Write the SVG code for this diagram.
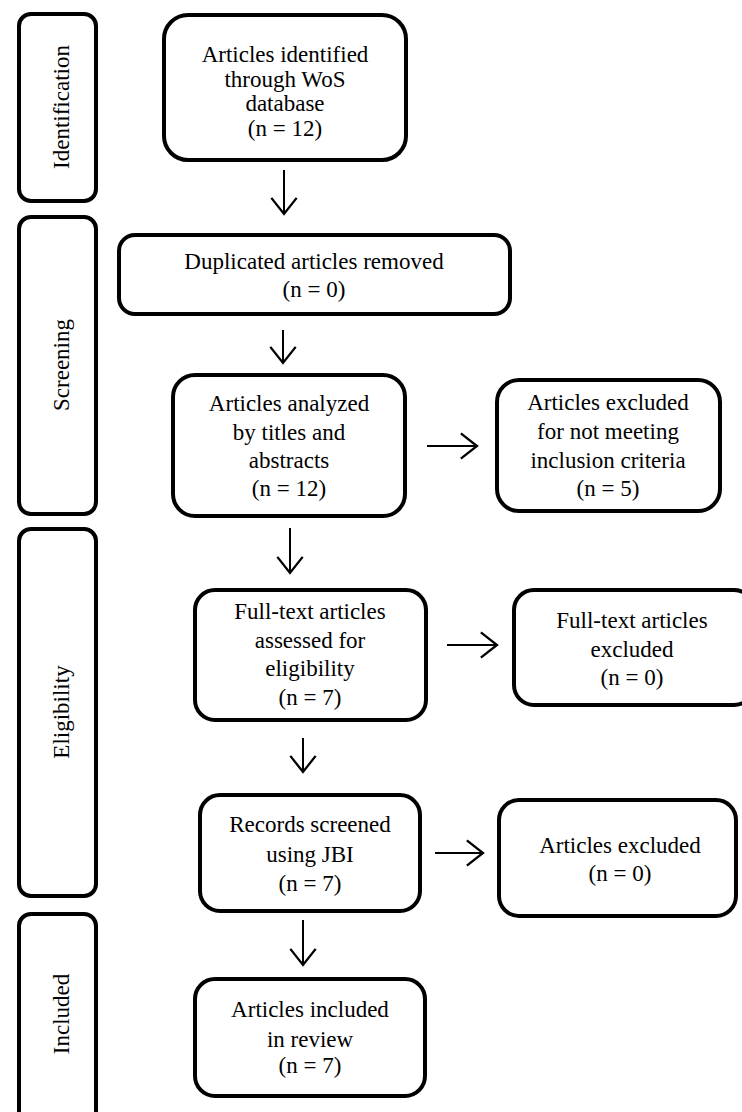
<svg xmlns="http://www.w3.org/2000/svg" width="742" height="1112" viewBox="0 0 742 1112">
<style>
.box{fill:#fff;stroke:#000;stroke-width:4}
.t{font-family:"Liberation Serif","Times New Roman",serif;font-size:23px;fill:#000;text-anchor:middle}
.c{stroke:#000;stroke-width:2;fill:none}
</style>
<defs>
<marker id="ah" markerUnits="userSpaceOnUse" markerWidth="30" markerHeight="30" viewBox="-16 -13 18 26" refX="0" refY="0" orient="auto">
<path d="M-14,-11 L0,0 L-14,11" fill="none" stroke="#000" stroke-width="2"/>
</marker>
</defs>
<rect width="742" height="1112" fill="#fff"/>
<g id="phase-identification">
<rect class="box" x="19" y="14" width="77" height="187" rx="12"/>
<text class="t" transform="translate(69,107) rotate(-90)">Identification</text>
</g>
<g id="phase-screening">
<rect class="box" x="19" y="217" width="77" height="297" rx="12"/>
<text class="t" transform="translate(69,365) rotate(-90)">Screening</text>
</g>
<g id="phase-eligibility">
<rect class="box" x="19" y="529" width="77" height="367" rx="12"/>
<text class="t" transform="translate(69,712) rotate(-90)">Eligibility</text>
</g>
<g id="phase-included">
<rect class="box" x="19" y="914" width="77" height="210" rx="12"/>
<text class="t" transform="translate(69,1014) rotate(-90)">Included</text>
</g>
<g id="identified">
<rect class="box" x="164" y="15" width="242" height="145" rx="24"/>
<text class="t" x="285" y="62">Articles identified</text>
<text class="t" x="285" y="87">through WoS</text>
<text class="t" x="285" y="111">database</text>
<text class="t" x="285" y="136">(n = 12)</text>
</g>
<g id="duplicates">
<rect class="box" x="119" y="235" width="391" height="79" rx="16"/>
<text class="t" x="314" y="269">Duplicated articles removed</text>
<text class="t" x="314" y="297">(n = 0)</text>
</g>
<g id="analyzed">
<rect class="box" x="173" y="375" width="232" height="141" rx="22"/>
<text class="t" x="289" y="411">Articles analyzed</text>
<text class="t" x="289" y="440">by titles and</text>
<text class="t" x="289" y="468">abstracts</text>
<text class="t" x="289" y="496">(n = 12)</text>
</g>
<g id="excluded-criteria">
<rect class="box" x="497" y="380" width="223" height="131" rx="22"/>
<text class="t" x="608" y="410">Articles excluded</text>
<text class="t" x="608" y="439">for not meeting</text>
<text class="t" x="608" y="468">inclusion criteria</text>
<text class="t" x="608" y="496">(n = 5)</text>
</g>
<g id="fulltext">
<rect class="box" x="195" y="590" width="231" height="130" rx="20"/>
<text class="t" x="310" y="619">Full-text articles</text>
<text class="t" x="310" y="648">assessed for</text>
<text class="t" x="310" y="676">eligibility</text>
<text class="t" x="310" y="705">(n = 7)</text>
</g>
<g id="fulltext-excluded">
<rect class="box" x="514" y="590" width="240" height="115" rx="20"/>
<text class="t" x="632" y="628">Full-text articles</text>
<text class="t" x="632" y="657">excluded</text>
<text class="t" x="632" y="685">(n = 0)</text>
</g>
<g id="jbi">
<rect class="box" x="200" y="795" width="220" height="116" rx="20"/>
<text class="t" x="310" y="832">Records screened</text>
<text class="t" x="310" y="862">using JBI</text>
<text class="t" x="310" y="891">(n = 7)</text>
</g>
<g id="jbi-excluded">
<rect class="box" x="499" y="800" width="237" height="116" rx="20"/>
<text class="t" x="620" y="853">Articles excluded</text>
<text class="t" x="620" y="881">(n = 0)</text>
</g>
<g id="included">
<rect class="box" x="195" y="979" width="230" height="117" rx="20"/>
<text class="t" x="310" y="1017">Articles included</text>
<text class="t" x="310" y="1047">in review</text>
<text class="t" x="310" y="1073">(n = 7)</text>
</g>
<g id="connectors">
<line class="c" x1="284" y1="170" x2="284" y2="214" marker-end="url(#ah)"/>
<line class="c" x1="283" y1="330" x2="283" y2="363" marker-end="url(#ah)"/>
<line class="c" x1="427" y1="446" x2="477" y2="446" marker-end="url(#ah)"/>
<line class="c" x1="290" y1="528" x2="290" y2="573" marker-end="url(#ah)"/>
<line class="c" x1="447" y1="645" x2="497" y2="645" marker-end="url(#ah)"/>
<line class="c" x1="303" y1="738" x2="303" y2="772" marker-end="url(#ah)"/>
<line class="c" x1="435" y1="853" x2="483" y2="853" marker-end="url(#ah)"/>
<line class="c" x1="303" y1="920" x2="303" y2="965" marker-end="url(#ah)"/>
</g>
</svg>
